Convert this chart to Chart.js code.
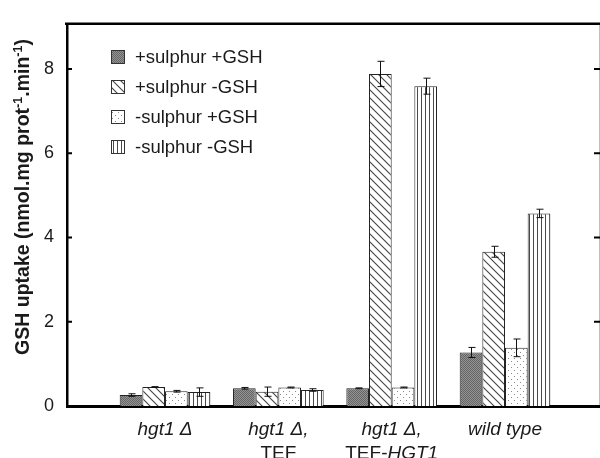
<!DOCTYPE html>
<html>
<head>
<meta charset="utf-8">
<script src="https://cdn.jsdelivr.net/npm/chart.js@4/dist/chart.umd.min.js"></script>
<style>
  html, body { margin: 0; padding: 0; background: #fff; overflow: hidden; }
  #wrap { width: 606px; height: 458px; }
</style>
</head>
<body>
<div id="wrap"><canvas id="uptakeChart" width="606" height="458"></canvas></div>
<script>
// strains on the x axis, each label split into lines of [text, italic] runs
const strains = ['hgt1 Δ', 'hgt1 Δ, TEF', 'hgt1 Δ, TEF-HGT1', 'wild type'];
const strainLabels = [
    [[['hgt1 Δ', true]]],
    [[['hgt1 Δ,', true]], [['TEF', false]]],
    [[['hgt1 Δ,', true]], [['TEF-', false], ['HGT1', true]]],
    [[['wild type', true]]]
];

const seriesNames = ['+sulphur +GSH', '+sulphur -GSH', '-sulphur +GSH', '-sulphur -GSH'];

// GSH uptake, nmol.mg prot-1.min-1
const plusSulphurPlusGsh = [0.26, 0.42, 0.42, 1.27];
const plusSulphurNoGsh = [0.45, 0.34, 7.88, 3.66];
const noSulphurPlusGsh = [0.35, 0.44, 0.44, 1.38];
const noSulphurNoGsh = [0.33, 0.38, 7.59, 4.57];

// standard deviations
const errPlusSulphurPlusGsh = [0.03, 0.02, 0.01, 0.12];
const errPlusSulphurNoGsh = [0.01, 0.11, 0.30, 0.13];
const errNoSulphurPlusGsh = [0.02, 0.01, 0.01, 0.21];
const errNoSulphurNoGsh = [0.10, 0.03, 0.19, 0.10];

const yTicks = [0, 2, 4, 6, 8];

const FONT = '"Liberation Sans", Arial, Helvetica, sans-serif';
const INK = '#1a1a1a';

function makePattern(w, h, paint) {
    const c = document.createElement('canvas');
    c.width = w;
    c.height = h;
    const g = c.getContext('2d');
    paint(g, w, h);
    return g.createPattern(c, 'repeat');
}

// dark stipple
const darkFill = makePattern(2, 2, (g) => {
    g.fillStyle = '#939393';
    g.fillRect(0, 0, 2, 2);
    g.fillStyle = '#666';
    g.fillRect(0, 0, 1, 1);
    g.fillRect(1, 1, 1, 1);
});

// diagonal hatch, top-left to bottom-right
const hatchFill = makePattern(8, 8, (g, w) => {
    g.fillStyle = '#fff';
    g.fillRect(0, 0, w, w);
    g.strokeStyle = '#444';
    g.lineWidth = 1.1;
    g.beginPath();
    g.moveTo(-2, -2); g.lineTo(w + 2, w + 2);
    g.moveTo(-2, w - 2); g.lineTo(2, w + 2);
    g.moveTo(w - 2, -2); g.lineTo(w + 2, 2);
    g.stroke();
});

// light dots
const dotFill = makePattern(6, 6, (g) => {
    g.fillStyle = '#fff';
    g.fillRect(0, 0, 6, 6);
    g.fillStyle = '#8a8a8a';
    g.fillRect(1, 1, 1, 1);
    g.fillRect(4, 4, 1, 1);
});

// vertical stripes
const stripeFill = makePattern(4, 1, (g) => {
    g.fillStyle = '#fff';
    g.fillRect(0, 0, 4, 1);
    g.fillStyle = '#4a4a4a';
    g.fillRect(1, 0, 1, 1);
});

const fills = [darkFill, hatchFill, dotFill, stripeFill];
const values = [plusSulphurPlusGsh, plusSulphurNoGsh, noSulphurPlusGsh, noSulphurNoGsh];
const errors = [errPlusSulphurPlusGsh, errPlusSulphurNoGsh, errNoSulphurPlusGsh, errNoSulphurNoGsh];

const datasets = seriesNames.map((name, s) => ({
    label: name,
    data: values[s].map((v, i) => ({ x: i + 1, y: v })),
    errors: errors[s],
    backgroundColor: fills[s],
    borderColor: '#222',
    borderWidth: 1,
    categoryPercentage: 0.8,
    barPercentage: 1.0
}));

const errorBars = {
    id: 'errorBars',
    afterDatasetsDraw(chart) {
        const { ctx } = chart;
        const y = chart.scales.y;
        ctx.save();
        ctx.strokeStyle = '#111';
        ctx.lineWidth = 1;
        chart.data.datasets.forEach((ds, di) => {
            chart.getDatasetMeta(di).data.forEach((bar, i) => {
                const v = ds.data[i].y;
                const e = ds.errors[i];
                const top = y.getPixelForValue(v + e);
                const bot = y.getPixelForValue(v - e);
                const x = Math.round(bar.x) + 0.5;
                ctx.beginPath();
                ctx.moveTo(x, top); ctx.lineTo(x, bot);
                ctx.moveTo(x - 3, top); ctx.lineTo(x + 4, top);
                ctx.moveTo(x - 3, bot); ctx.lineTo(x + 4, bot);
                ctx.stroke();
            });
        });
        ctx.restore();
    }
};

const frame = {
    id: 'frame',
    afterDraw(chart) {
        const { ctx, chartArea: a } = chart;
        const y = chart.scales.y;
        ctx.save();
        ctx.strokeStyle = '#000';
        ctx.lineWidth = 2.5;
        ctx.beginPath();
        ctx.moveTo(a.left - 2, a.top);
        ctx.lineTo(chart.width, a.top);
        ctx.moveTo(a.right, a.top);
        ctx.lineTo(a.right, a.bottom);
        ctx.stroke();
        // inward ticks on both sides
        ctx.lineWidth = 2;
        yTicks.forEach((t) => {
            if (t === 0) return;
            const py = y.getPixelForValue(t);
            ctx.beginPath();
            ctx.moveTo(a.left, py); ctx.lineTo(a.left + 5, py);
            ctx.moveTo(a.right - 7, py); ctx.lineTo(a.right, py);
            ctx.stroke();
        });
        ctx.restore();
    }
};

const strainAxisLabels = {
    id: 'strainAxisLabels',
    afterDraw(chart) {
        const { ctx } = chart;
        const x = chart.scales.x;
        ctx.save();
        ctx.fillStyle = INK;
        ctx.textBaseline = 'alphabetic';
        ctx.textAlign = 'left';
        strainLabels.forEach((lines, i) => {
            const cx = x.getPixelForValue(i + 1);
            lines.forEach((runs, j) => {
                const fonts = runs.map(([, it]) => (it ? 'italic ' : '') + '19px ' + FONT);
                let total = 0;
                runs.forEach(([t], k) => { ctx.font = fonts[k]; total += ctx.measureText(t).width; });
                let px = cx - total / 2;
                runs.forEach(([t], k) => {
                    ctx.font = fonts[k];
                    ctx.fillText(t, px, 435 + j * 24);
                    px += ctx.measureText(t).width;
                });
            });
        });
        ctx.restore();
    }
};

const yTitle = {
    id: 'yTitle',
    afterDraw(chart) {
        const { ctx } = chart;
        const parts = [['GSH uptake (nmol.mg prot', false], ['-1', true], ['.min', false], ['-1', true], [')', false]];
        const main = 'bold 19.5px ' + FONT;
        const sup = 'bold 12.5px ' + FONT;
        let total = 0;
        parts.forEach(([t, s]) => { ctx.font = s ? sup : main; total += ctx.measureText(t).width; });
        ctx.save();
        ctx.translate(29, 197);
        ctx.rotate(-Math.PI / 2);
        ctx.fillStyle = INK;
        ctx.textBaseline = 'alphabetic';
        let px = -total / 2;
        parts.forEach(([t, s]) => {
            ctx.font = s ? sup : main;
            ctx.fillText(t, px, s ? -7 : 0);
            px += ctx.measureText(t).width;
        });
        ctx.restore();
    }
};

const patternLegend = {
    id: 'patternLegend',
    afterDraw(chart) {
        const { ctx } = chart;
        ctx.save();
        ctx.font = '18.5px ' + FONT;
        ctx.textBaseline = 'middle';
        ctx.fillStyle = INK;
        seriesNames.forEach((name, i) => {
            const cy = 57 + i * 30;
            ctx.fillStyle = fills[i];
            ctx.fillRect(111, cy - 7, 14, 14);
            ctx.strokeStyle = '#333';
            ctx.lineWidth = 1;
            ctx.strokeRect(111.5, cy - 6.5, 13, 13);
            ctx.fillStyle = INK;
            ctx.fillText(name, 135, cy + 1);
        });
        ctx.restore();
    }
};

new Chart(document.getElementById('uptakeChart').getContext('2d'), {
    type: 'bar',
    data: { datasets: datasets },
    options: {
        responsive: false,
        animation: false,
        devicePixelRatio: 1,
        layout: { padding: { top: 14, right: 5, left: 0, bottom: 0 } },
        plugins: { legend: { display: false }, tooltip: { enabled: false } },
        scales: {
            x: {
                type: 'linear',
                min: 0.135,
                max: 4.847,
                offset: false,
                z: 1,
                grid: { display: false, drawTicks: false },
                border: { display: true, color: '#000', width: 3 },
                ticks: { display: false },
                // one tick per strain so the bar ruler uses the strain spacing
                afterBuildTicks(scale) { scale.ticks = strains.map((s, i) => ({ value: i + 1 })); },
                afterFit(scale) { scale.height = 52; }
            },
            y: {
                min: 0,
                max: 9.07,
                z: 1,
                grid: { display: false, drawTicks: false, tickLength: 0 },
                border: { display: true, color: '#000', width: 2.5 },
                ticks: {
                    padding: 13,
                    color: INK,
                    font: { family: FONT, size: 18 }
                },
                afterBuildTicks(scale) { scale.ticks = yTicks.map((v) => ({ value: v })); },
                afterFit(scale) { scale.width = 67; }
            }
        }
    },
    plugins: [errorBars, frame, strainAxisLabels, yTitle, patternLegend]
});
</script>
</body>
</html>
